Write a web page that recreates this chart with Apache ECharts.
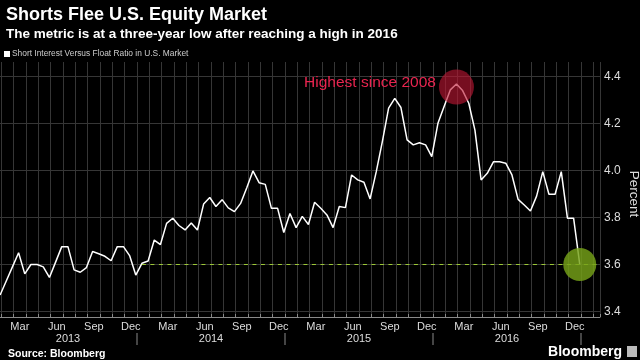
<!DOCTYPE html>
<html>
<head>
<meta charset="utf-8">
<script src="https://cdn.jsdelivr.net/npm/echarts@6/dist/echarts.min.js"></script>
<style>
html,body{margin:0;padding:0;background:#000;}
#chart{width:640px;height:360px;}
</style>
</head>
<body>
<div id="chart"></div>
<script>
// ---- data (semimonthly short-interest readings, Jan 2013 - Dec 2016) ----
var seriesName = 'Short Interest Versus Float Ratio in U.S. Market';
var firstReportMonth = 0.9;   // months after 1 Jan 2013 of the first reading
var reportStep = 0.5;         // readings every half month
var shortInterest = [
  3.47, 3.53, 3.59, 3.65, 3.56, 3.60, 3.60, 3.59, 3.545, 3.61,
  3.676, 3.676, 3.577, 3.567, 3.587, 3.655, 3.646, 3.635, 3.616, 3.676,
  3.676, 3.638, 3.555, 3.605, 3.615, 3.704, 3.685, 3.775, 3.797, 3.766,
  3.747, 3.777, 3.747, 3.857, 3.885, 3.847, 3.876, 3.841, 3.825, 3.860,
  3.927, 3.998, 3.948, 3.941, 3.839, 3.839, 3.736, 3.817, 3.757, 3.805,
  3.770, 3.865, 3.839, 3.811, 3.757, 3.847, 3.842, 3.981, 3.960, 3.950,
  3.879, 3.995, 4.125, 4.265, 4.307, 4.268, 4.130, 4.109, 4.118, 4.109,
  4.059, 4.201, 4.272, 4.343, 4.368, 4.340, 4.286, 4.172, 3.960, 3.988,
  4.037, 4.037, 4.031, 3.981, 3.877, 3.853, 3.828, 3.891, 3.995, 3.899,
  3.899, 3.995, 3.797, 3.797, 3.600
];
var monthNames = ['Jan','Feb','Mar','Apr','May','Jun','Jul','Aug','Sep','Oct','Nov','Dec'];
var labelMonths = ['Mar','Jun','Sep','Dec'];
var years = [2013, 2014, 2015, 2016];
var yTicks = [3.4, 3.6, 3.8, 4.0, 4.2, 4.4];
var lowLevel = 3.6;          // three-year low level
var lowSinceIndex = 23;      // reading where the level was last seen
var highLabel = 'Highest since 2008';
var xMaxMonth = 49.54;

// ---- build ----
var xs = shortInterest.map(function (v, i) { return firstReportMonth + reportStep * i; });
var lineData = shortInterest.map(function (v, i) { return [xs[i], v]; });
var peakIdx = 0;
shortInterest.forEach(function (v, i) { if (v > shortInterest[peakIdx]) peakIdx = i; });
var lastIdx = shortInterest.length - 1;

var chart = echarts.init(document.getElementById('chart'), null, {renderer: 'canvas'});
var gridCol = '#363636';
var txtCol = '#dddddd';
var baseX = {type: 'value', min: 0, max: xMaxMonth, position: 'bottom', offset: 0};
function ax(o) { return Object.assign({}, baseX, o); }

var option = {
  backgroundColor: '#000',
  animation: false,
  title: [
    {text: 'Shorts Flee U.S. Equity Market', left: 1, top: 1,
     textStyle: {color: '#fff', fontSize: 18, fontWeight: 'bold', fontFamily: 'Liberation Sans'}},
    {text: 'The metric is at a three-year low after reaching a high in 2016', left: 1, top: 22,
     textStyle: {color: '#fff', fontSize: 13.5, fontWeight: 'bold', fontFamily: 'Liberation Sans'}},
    {text: 'Source: Bloomberg', left: 3, top: 344,
     textStyle: {color: '#fff', fontSize: 10.5, fontWeight: 'bold', fontFamily: 'Liberation Sans'}}
  ],
  legend: {
    data: [{name: seriesName, icon: 'rect', itemStyle: {color: '#fff'}}],
    left: 4, top: 50, itemWidth: 6, itemHeight: 6, padding: 0,
    textStyle: {color: '#cccccc', fontSize: 8.4, fontFamily: 'Liberation Sans', padding: [0, 0, 0, -3]}
  },
  grid: [
    {left: -11, right: 40, top: 76.5, bottom: 48.5, outerBoundsMode: 'none', containLabel: false},
    {left: -11, right: 40, top: 62, bottom: 43, outerBoundsMode: 'none', containLabel: false}
  ],
  xAxis: [
    ax({gridIndex: 0, show: false}),
    ax({gridIndex: 1, interval: 1,
        axisLine: {show: true, lineStyle: {color: '#8a8a8a', width: 1}},
        axisTick: {show: true, inside: true, length: 3, lineStyle: {color: '#8a8a8a'}},
        splitLine: {show: true, lineStyle: {color: gridCol, width: 1}},
        axisLabel: {show: false}}),
    ax({gridIndex: 1, interval: 0.5,
        axisLine: {show: false}, axisTick: {show: false}, splitLine: {show: false},
        axisLabel: {show: true, color: txtCol, fontSize: 11, margin: 4, fontFamily: 'Liberation Sans',
          formatter: function (v) {
            var k = Math.floor(v);
            if (Math.abs(v - k - 0.5) > 1e-6) return '';
            var name = monthNames[k % 12];
            return labelMonths.indexOf(name) >= 0 ? name : '';
          }}}),
    ax({gridIndex: 1, interval: 6,
        axisLine: {show: false}, axisTick: {show: false}, splitLine: {show: false},
        axisLabel: {show: true, color: txtCol, fontSize: 11, margin: 16, fontFamily: 'Liberation Sans',
          formatter: function (v) {
            var r = Math.round(v);
            if (Math.abs(v - r) > 1e-6 || r <= 0) return '';
            if (r % 12 === 6) {
              var idx = (r - 6) / 12; var y = years[idx];
              if (!y) return '';
              return idx === 0 ? '{first|' + y + '}' : String(y);
            }
            if (r % 12 === 0) return '{sep| }';
            return '';
          },
          rich: {
            sep: {width: 1, height: 12, backgroundColor: '#8a8a8a'},
            first: {color: txtCol, fontSize: 11, fontFamily: 'Liberation Sans', padding: [0, 0, 0, 10]}
          }}})
  ],
  yAxis: [
    {type: 'value', gridIndex: 0, position: 'right', min: yTicks[0], max: yTicks[yTicks.length - 1], interval: 0.2,
     axisLine: {show: false},
     axisTick: {show: true, length: 3, lineStyle: {color: '#cccccc'}},
     minorTick: {show: true, splitNumber: 2, length: 3, lineStyle: {color: '#cccccc'}},
     splitLine: {show: true, lineStyle: {color: gridCol, width: 1}},
     axisLabel: {color: txtCol, fontSize: 12, margin: 4, fontFamily: 'Liberation Sans',
       formatter: function (v) { return v.toFixed(1); }},
     name: 'Percent', nameLocation: 'middle', nameRotate: -90, nameGap: 27, nameMoveOverlap: false,
     nameTextStyle: {color: txtCol, fontSize: 13.5, fontFamily: 'Liberation Sans'}},
    {type: 'value', gridIndex: 1, position: 'right', min: 0, max: 1,
     axisLine: {show: true, lineStyle: {color: '#777'}},
     axisTick: {show: false}, axisLabel: {show: false}, splitLine: {show: false}}
  ],
  series: [{
    name: seriesName, type: 'line', xAxisIndex: 0, yAxisIndex: 0,
    data: lineData, showSymbol: false, symbol: 'none',
    lineStyle: {color: '#ffffff', width: 1.5}, itemStyle: {color: '#ffffff'},
    markLine: {
      silent: true, symbol: ['none', 'none'], label: {show: false},
      lineStyle: {color: '#9cc936', type: [4, 4.5], width: 1},
      data: [[{coord: [xs[lowSinceIndex], lowLevel]}, {coord: [xMaxMonth, lowLevel]}]]
    },
    markPoint: {
      silent: true,
      data: [
        {coord: [xs[peakIdx], shortInterest[peakIdx]], symbol: 'circle', symbolSize: 35, symbolOffset: [0, 3],
         itemStyle: {color: 'rgba(190,22,52,0.62)'},
         label: {show: true, position: 'left', distance: 3, offset: [0, -4], formatter: highLabel,
                 color: '#e8244f', fontSize: 15.5, fontFamily: 'Liberation Sans'}},
        {coord: [xs[lastIdx], shortInterest[lastIdx]], symbol: 'circle', symbolSize: 33,
         itemStyle: {color: 'rgba(118,162,24,0.82)'}, label: {show: false}}
      ]
    }
  }],
  graphic: [
    {type: 'text', right: 18, top: 345, style: {text: 'Bloomberg', fill: '#fff', fontSize: 14, fontWeight: 'bold', fontFamily: 'Liberation Sans'}},
    {type: 'rect', right: 3, top: 346, shape: {width: 10, height: 11}, style: {fill: '#bbbbbb'}}
  ]
};
chart.setOption(option);
</script>
</body>
</html>
